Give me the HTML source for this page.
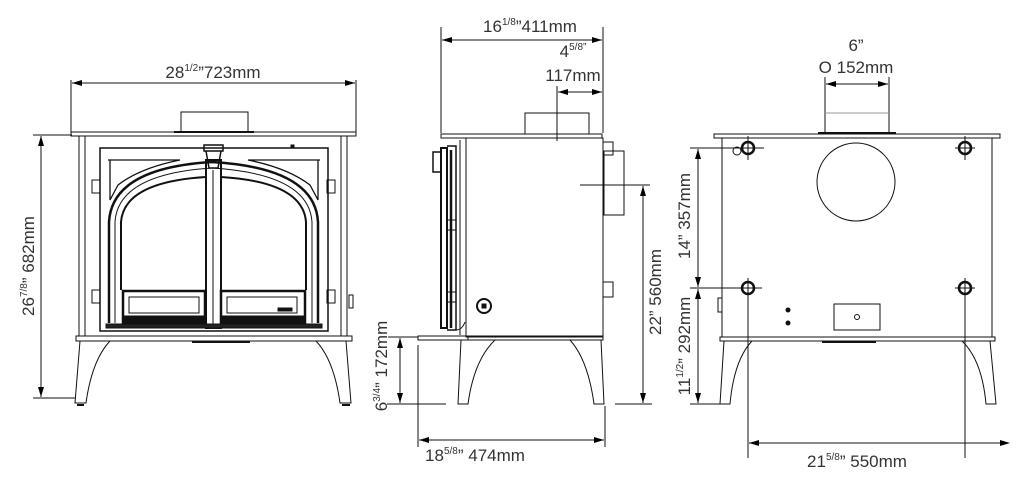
<!DOCTYPE html>
<html><head><meta charset="utf-8"><style>
html,body{margin:0;padding:0;background:#fff;}
svg{display:block;}
text{font-family:"Liberation Sans",sans-serif;fill:#333;font-size:17px;}
.s{font-size:10px;}
</style></head><body>
<svg width="1024" height="486" viewBox="0 0 1024 486" xmlns="http://www.w3.org/2000/svg">
<defs>
<marker id="a" viewBox="0 0 10 6" refX="10" refY="3" markerWidth="10" markerHeight="6" orient="auto-start-reverse" markerUnits="userSpaceOnUse"><path d="M0,0 L10,3 L0,6 Z" fill="#000"/></marker>
</defs>
<g stroke="#111" fill="none" stroke-width="1">

<!-- FRONT VIEW -->
<line x1="71" y1="80" x2="71" y2="133"/><line x1="356" y1="80" x2="356" y2="133"/>
<line x1="72" y1="83" x2="355" y2="83" marker-start="url(#a)" marker-end="url(#a)"/>
<line x1="33" y1="135" x2="72" y2="135"/><line x1="33" y1="398" x2="75" y2="398"/>
<line x1="41" y1="136" x2="41" y2="397" marker-start="url(#a)" marker-end="url(#a)"/>
<rect x="181" y="112" width="67" height="20"/>
<line x1="174" y1="132" x2="254" y2="132" stroke-width="2"/>
<rect x="71" y="132" width="285" height="4"/>
<rect x="79" y="136" width="268" height="200"/>
<line x1="85" y1="136" x2="85" y2="336"/><line x1="341" y1="136" x2="341" y2="336"/>
<rect x="100" y="148" width="228" height="183" stroke-width="1.5"/>
<path d="M109,323 V222 Q112,168 212,162 Q315,168 318,222 V323" stroke-width="2.5"/>
<path d="M115,323 V222 Q118,174 212,168 Q309,174 312,222 V323"/>
<path d="M121,290 V222 Q124,182 206,177" stroke-width="2"/>
<path d="M306,290 V222 Q303,182 221,177" stroke-width="2"/>
<path d="M108,160 H180 Q140,168 118,185 L110,200 V160 Z" stroke-width="1.3"/>
<path d="M320,160 H248 Q288,168 310,185 L318,200 V160 Z" stroke-width="1.3"/>
<rect x="206" y="160" width="15" height="168" stroke-width="2"/>
<line x1="213" y1="170" x2="213" y2="328"/>
<rect x="204" y="145" width="19" height="6" stroke-width="1.5"/>
<path d="M206,151 L209,168 H218 L221,151" stroke-width="1.5"/>
<rect x="123" y="291" width="82" height="33" stroke-width="2.5"/>
<rect x="129" y="297" width="70" height="16" fill="#fff"/>
<rect x="221" y="291" width="84" height="33" stroke-width="2.5"/>
<rect x="227" y="297" width="70" height="16"/>
<rect x="123" y="316" width="82" height="8" fill="#111"/>
<rect x="221" y="316" width="84" height="8" fill="#111"/>
<rect x="278" y="308" width="14" height="3" fill="#111"/>
<rect x="106" y="324" width="216" height="4" fill="#222"/>
<rect x="92" y="180" width="8" height="13"/><rect x="92" y="290" width="8" height="13"/>
<rect x="327" y="180" width="8" height="13"/><rect x="327" y="290" width="8" height="13"/>
<rect x="349" y="295" width="4" height="13"/>
<rect x="291" y="145" width="3" height="3" fill="#111"/>
<rect x="76" y="336" width="276" height="5"/>
<line x1="192" y1="342" x2="250" y2="342" stroke-width="2"/>
<path d="M80,341 L75,403 H86 Q92,360 110,341"/>
<path d="M346,341 L351,403 H340 Q334,360 316,341"/>
<line x1="77" y1="405" x2="84" y2="405" stroke-width="2"/><line x1="342" y1="405" x2="350" y2="405" stroke-width="2"/>

<!-- SIDE VIEW -->
<line x1="441" y1="27" x2="441" y2="133"/><line x1="603" y1="27" x2="603" y2="133"/>
<line x1="442" y1="40" x2="602" y2="40" marker-start="url(#a)" marker-end="url(#a)"/>
<line x1="557" y1="86" x2="557" y2="141"/>
<line x1="558" y1="92" x2="602" y2="92" marker-start="url(#a)" marker-end="url(#a)"/>
<rect x="525" y="113" width="64" height="21"/>
<rect x="441" y="134" width="161" height="4"/>
<rect x="466" y="138" width="137" height="199"/>
<line x1="460" y1="140" x2="460" y2="335"/>
<rect x="603" y="142" width="10" height="13"/>
<rect x="604" y="151" width="20" height="64"/>
<line x1="580" y1="185" x2="650" y2="185"/>
<rect x="603" y="282" width="10" height="15"/>
<circle cx="484" cy="306" r="7" stroke-width="2"/><rect x="482" y="304" width="4" height="4" fill="#111"/>
<path d="M441,148 H447 V328 H441 Z" stroke-width="2"/>
<path d="M447,146 H456 V330 H447" stroke-width="1.5"/>
<line x1="451" y1="150" x2="451" y2="328" stroke-width="2.5"/>
<rect x="433" y="152" width="8" height="20" stroke-width="1.5"/>
<rect x="447" y="220" width="9" height="10"/><rect x="447" y="292" width="9" height="10"/>
<path d="M456,146 V330 Q462,330 465,322"/>
<rect x="418" y="336" width="50" height="4"/>
<rect x="468" y="336" width="135" height="4"/>
<path d="M461,340 L458,404 H468 Q474,360 495,340"/>
<path d="M601,340 L604,404 H594 Q588,360 570,340"/>
<line x1="388" y1="337" x2="418" y2="337"/><line x1="387" y1="404" x2="446" y2="404"/>
<line x1="400" y1="338" x2="400" y2="403" marker-start="url(#a)" marker-end="url(#a)"/>
<line x1="418" y1="345" x2="418" y2="447"/><line x1="605" y1="406" x2="605" y2="447"/>
<line x1="419" y1="440" x2="604" y2="440" marker-start="url(#a)" marker-end="url(#a)"/>
<line x1="615" y1="404" x2="652" y2="404"/>
<line x1="643" y1="186" x2="643" y2="403" marker-start="url(#a)" marker-end="url(#a)"/>

<!-- REAR VIEW -->
<line x1="825" y1="77" x2="825" y2="133"/><line x1="889" y1="77" x2="889" y2="133"/>
<line x1="826" y1="84" x2="888" y2="84" marker-start="url(#a)" marker-end="url(#a)"/>
<line x1="825" y1="113" x2="889" y2="113" stroke="#999"/>
<line x1="818" y1="133" x2="896" y2="133" stroke-width="2"/>
<rect x="714" y="134" width="286" height="4"/>
<rect x="722" y="138" width="270" height="199"/>
<circle cx="856" cy="182" r="39"/>
<g stroke-width="2.5">
<circle cx="748" cy="148" r="6"/><circle cx="965" cy="148" r="6"/>
<circle cx="748" cy="288" r="6"/><circle cx="965" cy="288" r="6"/>
</g>
<circle cx="737" cy="151" r="4"/>
<line x1="738" y1="148" x2="764" y2="148"/><line x1="748" y1="136" x2="748" y2="160"/>
<line x1="955" y1="148" x2="975" y2="148"/><line x1="965" y1="136" x2="965" y2="160"/>
<line x1="955" y1="288" x2="975" y2="288"/><line x1="965" y1="278" x2="965" y2="458"/>
<line x1="690" y1="288" x2="762" y2="288"/><line x1="748" y1="278" x2="748" y2="458"/>
<line x1="690" y1="148" x2="738" y2="148"/>
<ellipse cx="788" cy="310" rx="2" ry="2" fill="#111"/><ellipse cx="788" cy="323" rx="2" ry="2" fill="#111"/>
<rect x="834" y="304" width="46" height="26"/>
<circle cx="857" cy="317" r="2.5"/>
<rect x="718" y="298" width="4" height="14"/>
<rect x="720" y="337" width="275" height="4"/>
<line x1="822" y1="342" x2="876" y2="342" stroke-width="2"/>
<path d="M724,341 L720,404 H730 Q734,360 752,341"/>
<path d="M990,341 L996,404 H986 Q982,360 962,341"/>
<line x1="690" y1="404" x2="722" y2="404"/>
<line x1="698" y1="149" x2="698" y2="287" marker-start="url(#a)" marker-end="url(#a)"/>
<line x1="698" y1="289" x2="698" y2="403" marker-start="url(#a)" marker-end="url(#a)"/>
<line x1="749" y1="443" x2="1000" y2="443" marker-start="url(#a)"/>
<path d="M1000,440 L1010,443 L1000,446 Z" fill="#000" stroke="none"/>
</g>

<!-- TEXT -->
<text x="213" y="78" text-anchor="middle">28<tspan class="s" dy="-7">1/2</tspan><tspan dy="7">”723mm</tspan></text>
<text transform="translate(34,266) rotate(-90)" text-anchor="middle">26<tspan class="s" dy="-7">7/8</tspan><tspan dy="7">” 682mm</tspan></text>
<text x="530" y="32" text-anchor="middle">16<tspan class="s" dy="-7">1/8</tspan><tspan dy="7">”411mm</tspan></text>
<text x="573" y="57" text-anchor="middle">4<tspan class="s" dy="-7">5/8”</tspan></text>
<text x="573" y="81" text-anchor="middle">117mm</text>
<text transform="translate(661,292) rotate(-90)" text-anchor="middle">22”  560mm</text>
<text transform="translate(387,366) rotate(-90)" text-anchor="middle">6<tspan class="s" dy="-7">3/4</tspan><tspan dy="7">”  172mm</tspan></text>
<text x="475" y="461" text-anchor="middle">18<tspan class="s" dy="-7">5/8</tspan><tspan dy="7">”  474mm</tspan></text>
<text x="856" y="51" text-anchor="middle">6”</text>
<text x="856" y="73" text-anchor="middle">O 152mm</text>
<text transform="translate(690,216) rotate(-90)" text-anchor="middle">14”  357mm</text>
<text transform="translate(690,346) rotate(-90)" text-anchor="middle">11<tspan class="s" dy="-7">1/2</tspan><tspan dy="7">”  292mm</tspan></text>
<text x="857" y="467" text-anchor="middle">21<tspan class="s" dy="-7">5/8</tspan><tspan dy="7">”  550mm</tspan></text>
</svg>
</body></html>
